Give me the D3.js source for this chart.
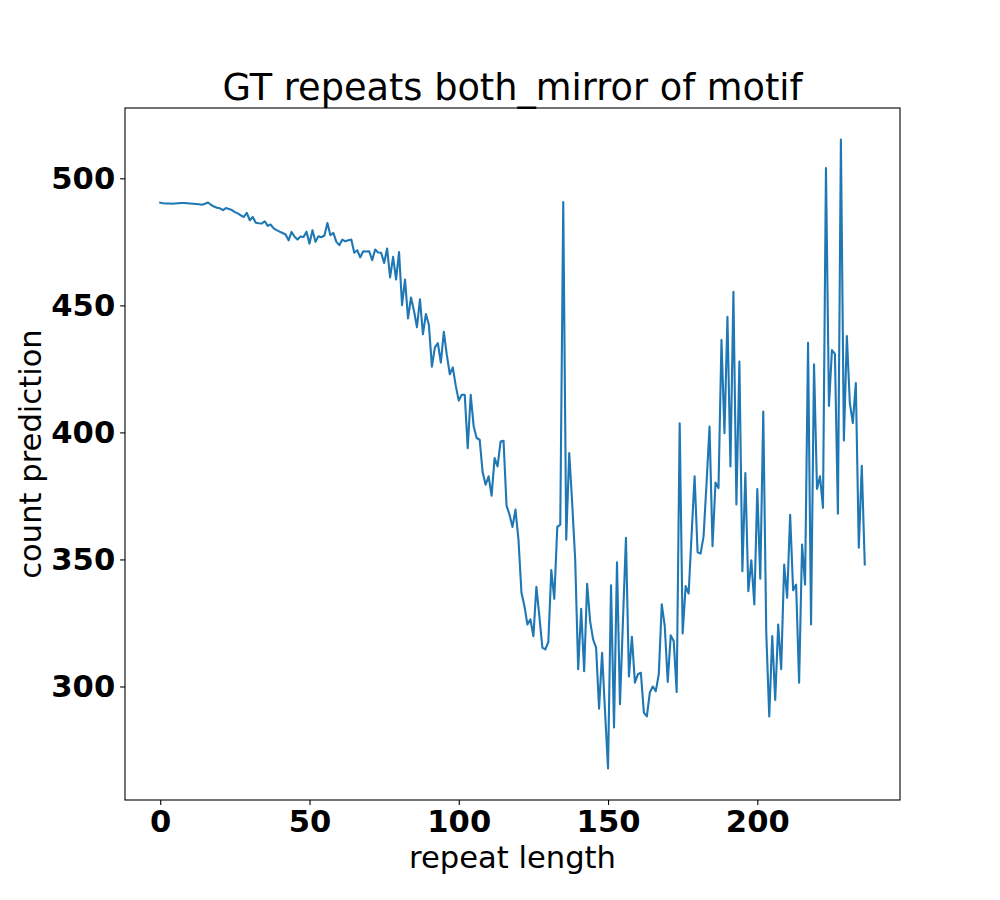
<!DOCTYPE html>
<html>
<head>
<meta charset="utf-8">
<script src="https://d3js.org/d3.v7.min.js"></script>
<style>
  body { margin: 0; background: #fff; }
  svg text { font-family: "DejaVu Sans", sans-serif; }
</style>
</head>
<body>
<div id="chart"></div>
<script>
// chart values
var chartTitle = "GT repeats both_mirror of motif";
var xLabel = "repeat length";
var yLabel = "count prediction";
var xTicks = [0, 50, 100, 150, 200];
var yTicks = [300, 350, 400, 450, 500];

// count prediction per repeat length (index = repeat length)
var counts = [
  490.4, 490.2, 490.1, 490.1, 490.0, 490.1, 490.2, 490.3, 490.3, 490.2,
  490.1, 490.0, 489.9, 489.8, 489.6, 490.0, 490.5, 489.6, 488.9, 488.4,
  488.2, 487.5, 488.3, 487.9, 487.5, 486.7, 486.2, 485.4, 484.8, 486.4,
  483.5, 484.8, 482.5, 482.3, 482.2, 483.1, 481.3, 481.8, 480.3, 479.6,
  479.0, 478.5, 477.9, 475.6, 478.9, 477.0, 475.9, 477.1, 476.9, 479.0,
  474.3, 479.6, 475.0, 477.2, 476.8, 477.5, 482.4, 477.6, 478.5, 475.0,
  473.7, 475.9, 475.2, 475.6, 475.9, 470.7, 471.7, 468.9, 471.3, 471.2,
  471.3, 467.8, 472.0, 470.8, 470.7, 466.7, 472.4, 461.0, 469.1, 460.2,
  471.0, 450.1, 460.2, 444.9, 453.1, 447.9, 441.4, 452.4, 438.7, 446.6,
  442.3, 425.9, 433.5, 435.1, 427.5, 439.6, 430.5, 422.9, 425.6, 418.3,
  412.5, 414.8, 414.8, 393.8, 414.8, 402.3, 397.8, 397.1, 384.3, 379.4,
  382.7, 375.1, 389.9, 386.6, 396.4, 396.7, 371.2, 367.6, 362.8, 369.6,
  357.8, 336.9, 331.6, 324.4, 326.4, 319.8, 339.2, 327.7, 315.3, 314.6,
  317.5, 345.8, 334.5, 362.8, 363.7, 490.7, 357.8, 391.9, 372.0, 350.0,
  306.8, 330.6, 306.0, 340.4, 325.7, 318.5, 315.3, 291.3, 313.3, 290.0,
  267.7, 339.8, 283.9, 348.9, 293.0, 326.0, 358.5, 303.9, 319.6, 301.5,
  304.8, 305.4, 289.7, 288.2, 297.6, 300.0, 298.2, 304.8, 332.3, 323.8,
  301.8, 320.1, 317.9, 297.8, 403.6, 320.9, 339.5, 336.6, 360.0, 382.7,
  352.8, 352.3, 359.1, 380.0, 402.3, 355.2, 380.3, 378.1, 436.4, 399.7,
  445.5, 386.6, 455.3, 371.6, 427.9, 345.4, 384.0, 337.5, 349.7, 332.3,
  377.7, 342.4, 408.2, 321.2, 288.2, 319.8, 294.7, 324.4, 306.8, 348.0,
  334.9, 367.6, 337.9, 340.1, 301.5, 355.9, 340.1, 435.3, 324.4, 426.8,
  377.7, 382.7, 370.3, 504.0, 410.4, 432.4, 430.9, 368.0, 515.3, 396.8,
  437.9, 411.5, 403.7, 419.4, 354.6, 386.9, 348.0
];

var W = 1000, H = 900;
var margin = {top: 108, right: 100, bottom: 100, left: 125};
var width = W - margin.left - margin.right;
var height = H - margin.top - margin.bottom;

var svg = d3.select("#chart").append("svg")
  .attr("width", W)
  .attr("height", H);

var g = svg.append("g")
  .attr("transform", "translate(" + margin.left + "," + margin.top + ")");

// matplotlib style 5% padding around the data
var n = counts.length - 1;
var x = d3.scaleLinear()
  .domain([-0.05 * n, n * 1.05])
  .range([0, width]);

var ymin = d3.min(counts), ymax = d3.max(counts);
var pad = (ymax - ymin) * 0.05;
var y = d3.scaleLinear()
  .domain([ymin - pad, ymax + pad])
  .range([height, 0]);

// axes
var xAxis = g.append("g")
  .attr("transform", "translate(0," + height + ")")
  .call(d3.axisBottom(x).tickValues(xTicks).tickSize(4.9).tickPadding(4.9).tickFormat(d3.format("d")));

var yAxis = g.append("g")
  .call(d3.axisLeft(y).tickValues(yTicks).tickSize(4.9).tickPadding(4.9).tickFormat(d3.format("d")));

[xAxis, yAxis].forEach(function(a) {
  a.select(".domain").remove();
  a.selectAll(".tick line").attr("stroke", "#000").attr("stroke-width", 1.1);
  a.selectAll(".tick text")
    .attr("fill", "#000")
    .attr("font-size", 30.6)
    .attr("font-weight", "bold")
    .attr("font-family", "DejaVu Sans");
});

// the line
var line = d3.line()
  .x(function(d, i) { return x(i); })
  .y(function(d) { return y(d); });

g.append("path")
  .datum(counts)
  .attr("fill", "none")
  .attr("stroke", "#1f77b4")
  .attr("stroke-width", 2.1)
  .attr("stroke-linejoin", "round")
  .attr("stroke-linecap", "square")
  .attr("d", line);

// frame
g.append("rect")
  .attr("x", 0)
  .attr("y", 0)
  .attr("width", width)
  .attr("height", height)
  .attr("fill", "none")
  .attr("stroke", "#000")
  .attr("stroke-width", 1.1);

// title
g.append("text")
  .attr("x", width / 2)
  .attr("y", -8.3)
  .attr("text-anchor", "middle")
  .attr("font-size", 36.7)
  .text(chartTitle);

// X label
g.append("text")
  .attr("x", width / 2)
  .attr("y", height + 68)
  .attr("text-anchor", "middle")
  .attr("font-size", 30.6)
  .text(xLabel);

// Y label
g.append("text")
  .attr("transform", "rotate(-90)")
  .attr("x", -height / 2)
  .attr("y", -84)
  .attr("text-anchor", "middle")
  .attr("font-size", 30.6)
  .text(yLabel);
</script>
</body>
</html>
